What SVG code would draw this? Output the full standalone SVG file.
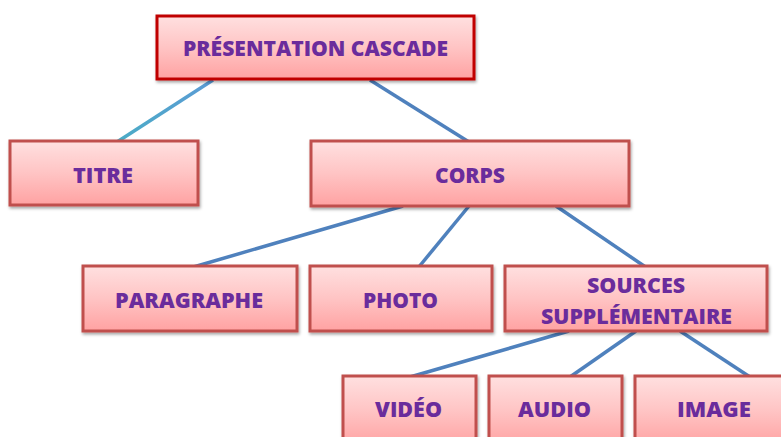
<svg xmlns="http://www.w3.org/2000/svg" width="781" height="437" viewBox="0 0 781 437">
<defs>
<linearGradient id="fill" x1="0" y1="0" x2="0" y2="1">
<stop offset="0" stop-color="#ffe0e0"/>
<stop offset="0.5" stop-color="#ffc4c4"/>
<stop offset="1" stop-color="#ffa2a2"/>
</linearGradient>
<linearGradient id="teal" x1="0" y1="0" x2="1" y2="0">
<stop offset="0" stop-color="#4bacc6"/>
<stop offset="1" stop-color="#5b9bd5"/>
</linearGradient>
<filter id="sh" x="-10%" y="-10%" width="120%" height="130%">
<feDropShadow dx="1" dy="2" stdDeviation="1.5" flood-color="#000" flood-opacity="0.35"/>
</filter>
</defs>
<style>
.box{fill:url(#fill);stroke:#c0504d;stroke-width:3;filter:url(#sh)}
.root{fill:url(#fill);stroke:#c00000;stroke-width:3;filter:url(#sh)}
.t{font-family:"Open Sans","Liberation Sans",sans-serif;font-weight:800;font-size:21.5px;fill:#6a2c9c;text-anchor:middle}
.c{stroke:#4f81bd;stroke-width:3.5;fill:none}
</style>
<rect width="781" height="437" fill="#ffffff"/>
<g id="connectors">
<line x1="213" y1="80" x2="117" y2="142" stroke="url(#teal)" stroke-width="3.5"/>
<line class="c" x1="370" y1="80" x2="469" y2="142"/>
<line class="c" x1="403" y1="206" x2="190" y2="268"/>
<line class="c" x1="469" y1="206" x2="418" y2="268"/>
<line class="c" x1="556" y1="206" x2="647" y2="268"/>
<line class="c" x1="569" y1="331" x2="410" y2="377"/>
<line class="c" x1="636" y1="331" x2="570" y2="377"/>
<line class="c" x1="680" y1="331" x2="750" y2="377"/>
</g>
<g id="presentation">
<rect class="root" x="157" y="16" width="317" height="63"/>
<text class="t" x="315.5" y="56" textLength="265" lengthAdjust="spacingAndGlyphs">PRÉSENTATION CASCADE</text>
</g>
<g id="titre">
<rect class="box" x="10" y="141" width="188" height="64"/>
<text class="t" x="103" y="183" textLength="60" lengthAdjust="spacingAndGlyphs">TITRE</text>
</g>
<g id="corps">
<rect class="box" x="311" y="141" width="318" height="65"/>
<text class="t" x="470" y="183" textLength="70" lengthAdjust="spacingAndGlyphs">CORPS</text>
</g>
<g id="paragraphe">
<rect class="box" x="83" y="266" width="214" height="65"/>
<text class="t" x="189" y="308" textLength="148" lengthAdjust="spacingAndGlyphs">PARAGRAPHE</text>
</g>
<g id="photo">
<rect class="box" x="310" y="266" width="182" height="65"/>
<text class="t" x="400.5" y="308" textLength="75" lengthAdjust="spacingAndGlyphs">PHOTO</text>
</g>
<g id="sources">
<rect class="box" x="505" y="266" width="262" height="65"/>
<text class="t" x="636" y="293" textLength="98" lengthAdjust="spacingAndGlyphs">SOURCES</text>
<text class="t" x="636.5" y="324" textLength="191" lengthAdjust="spacingAndGlyphs">SUPPLÉMENTAIRE</text>
</g>
<g id="video">
<rect class="box" x="343" y="376" width="133" height="70"/>
<text class="t" x="408.5" y="417" textLength="67" lengthAdjust="spacingAndGlyphs">VIDÉO</text>
</g>
<g id="audio">
<rect class="box" x="489" y="376" width="133" height="70"/>
<text class="t" x="554.5" y="417" textLength="73" lengthAdjust="spacingAndGlyphs">AUDIO</text>
</g>
<g id="image">
<rect class="box" x="635" y="376" width="160" height="70"/>
<text class="t" x="714" y="417" textLength="74" lengthAdjust="spacingAndGlyphs">IMAGE</text>
</g>
</svg>
